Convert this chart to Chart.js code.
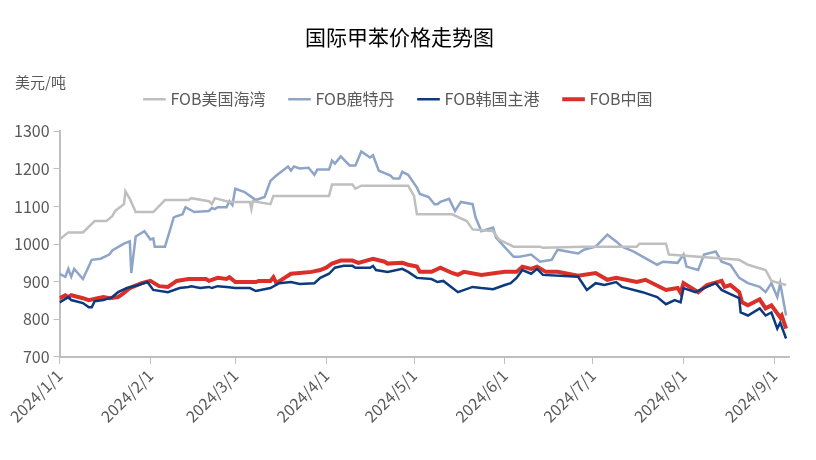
<!DOCTYPE html>
<html><head><meta charset="utf-8">
<script src="https://cdn.jsdelivr.net/npm/chart.js@4"></script>
<style>
body{margin:0;background:#fff;width:816px;height:460px;overflow:hidden;font-family:"Noto Sans CJK SC",sans-serif}
#wrap{position:absolute;left:0;top:0;width:816px;height:460px}
#unit{position:absolute;left:15px;top:71px;font-size:15px;color:#595959}
</style></head><body>
<div id="wrap"><canvas id="c" width="816" height="460"></canvas></div>
<div id="unit">美元/吨</div>
<script>
const monthTicks=[0,31,60,91,121,152,182,213,244];
const monthLabels=["2024/1/1","2024/2/1","2024/3/1","2024/4/1","2024/5/1","2024/6/1","2024/7/1","2024/8/1","2024/9/1"];
const yTicks=[700,800,900,1000,1100,1200,1300];

const usDays=[0,3,8,12,16,18,19,22,22.5,24,26,32,36,44,45,51,52,53,58,65,65.5,66,72,73,92,93,100,101,103,119,121,122,128,134,139,141,148,150,155,164,165,179,197,198,207,208,232,235,241,243,248];
const usVals=[1012,1031,1031,1061,1061,1074,1088,1106,1140,1120,1085,1085,1117,1117,1122,1114,1106,1122,1112,1112,1093,1114,1106,1128,1128,1158,1158,1147,1155,1155,1128,1079,1079,1079,1061,1039,1034,1012,993,993,990,993,993,1001,1001,972,958,945,931,902,891];

const rtDays=[0,2,3,4,5,8,11,14,17,18,22,24,24.5,26,29,31,32,32.5,36,39,40,42,43,46,51,52,53,54,57,58,59,60,63,65,67,70,72,74,78,79,80,82,85,87,88,92,93,94,96,99,101,103,106,107,109,113,114,116,117,119,122,123,126,128,129,130,133,135,137,141,142,144,148,149,155,157,161,164,168,170,177,179,183,187,190,192,196,201,204,206,211,213,214,218,220,224,226,229,232,235,239,241,243,245,246,248];
const rtVals=[921,913,934,913,934,907,958,961,972,983,1001,1007,923,1020,1034,1012,1015,993,993,1071,1074,1079,1098,1085,1088,1096,1093,1098,1098,1114,1104,1147,1139,1128,1117,1125,1168,1182,1206,1195,1206,1201,1203,1184,1198,1198,1222,1214,1233,1209,1209,1246,1230,1236,1195,1182,1174,1174,1192,1184,1150,1133,1125,1106,1106,1112,1120,1088,1112,1106,1071,1034,1044,1017,966,966,972,953,958,985,975,985,993,1025,1007,993,980,958,945,953,950,972,940,931,972,980,953,945,910,896,886,872,896,859,896,810];

const krDays=[0,3,4,8,10,11,12,15,18,20,23,27,30,32,37,41,44,45,48,51,52,54,57,60,65,67,72,75,79,82,87,89,92,94,97,100,101,106,107,108,112,117,119,122,127,129,131,136,141,144,148,152,154,156,158,161,163,165,177,180,183,186,190,192,199,204,207,210,212,213,217,220,224,226,229,232,232.5,235,239,241,243,245,246,248];
const krVals=[845,859,851,843,832,832,848,851,859,872,883,891,899,878,872,883,886,888,883,886,883,888,886,883,883,875,883,896,899,894,896,910,921,937,942,942,937,937,942,931,926,934,926,910,907,899,902,872,886,883,880,891,896,910,931,921,934,918,913,878,896,891,899,886,872,859,840,851,845,883,872,883,896,878,867,856,818,810,829,810,818,775,791,749];

const cnDays=[0,2,3,4,8,10,13,15,17,20,22,24,28,31,34,37,40,44,50,51,54,57,58,60,67,68,72,73,74,79,82,86,89,91,93,96,100,102,107,111,112,117,119,122,123,127,130,134,136,138,144,152,156,158,161,163,166,170,177,183,187,190,197,200,207,211,212,213,218,221,226,227,229,232,233,235,239,241,243,246,246.5,248];
const cnVals=[856,864,859,864,856,851,856,859,856,859,870,883,896,902,888,886,902,907,907,902,910,907,912,899,899,902,902,912,896,921,923,926,931,937,948,956,956,950,961,953,948,950,945,940,926,926,937,923,918,926,918,926,926,940,934,940,926,926,916,923,905,910,899,905,878,883,870,896,872,891,902,886,891,872,845,837,853,829,837,805,810,775];

function pts(d,v){return d.map((x,i)=>({x:x,y:v[i]}));}
const mk=(label,d,v,color,w)=>({label,data:pts(d,v),borderColor:color,backgroundColor:color,borderWidth:w,pointRadius:0,tension:0,fill:false});

const legendPad={id:'legendPad',beforeInit(chart){const fit=chart.legend.fit;chart.legend.fit=function(){fit.bind(chart.legend)();this.height+=14;};}};

new Chart(document.getElementById('c'),{
 type:'line',
 plugins:[legendPad],
 data:{datasets:[
  mk('FOB美国海湾',usDays,usVals,'#BFBFBF',2.5),
  mk('FOB鹿特丹',rtDays,rtVals,'#8EA5C8',2.5),
  mk('FOB韩国主港',krDays,krVals,'#0B3A7E',2.5),
  mk('FOB中国',cnDays,cnVals,'#D9302A',4)
 ]},
 options:{
  responsive:false,animation:false,
  layout:{padding:{left:10,right:27,top:0,bottom:32}},
  plugins:{
   title:{display:true,text:'国际甲苯价格走势图',color:'#000',font:{size:21,family:'"Noto Sans CJK SC"',weight:'normal'},padding:{top:24,bottom:16}},
   legend:{display:true,labels:{usePointStyle:true,pointStyle:'line',boxWidth:40,color:'#595959',font:{size:16,family:'"Noto Sans CJK SC"'},padding:26},
     onClick:null},
   tooltip:{enabled:false}
  },
  scales:{
   x:{type:'linear',min:0,max:249,
     afterBuildTicks:(ax)=>{ax.ticks=monthTicks.map(v=>({value:v}));},
     grid:{display:true,drawOnChartArea:false,color:'#BFBFBF',tickLength:7},
     border:{color:'#BFBFBF',width:2},
     ticks:{minRotation:45,maxRotation:45,color:'#595959',font:{size:16,family:'"Noto Sans CJK SC"'},padding:2,
       callback:(v)=>{const i=monthTicks.indexOf(v);return i>=0?monthLabels[i]:'';}}},
   y:{min:700,max:1300,
     afterBuildTicks:(ax)=>{ax.ticks=yTicks.map(v=>({value:v}));},
     grid:{display:true,drawOnChartArea:false,color:'#BFBFBF',tickLength:6},
     border:{color:'#BFBFBF',width:2},
     ticks:{color:'#595959',font:{size:16,family:'"Noto Sans CJK SC"'},padding:4,callback:(v)=>String(v)}}
  }
 }
});
</script></body></html>
